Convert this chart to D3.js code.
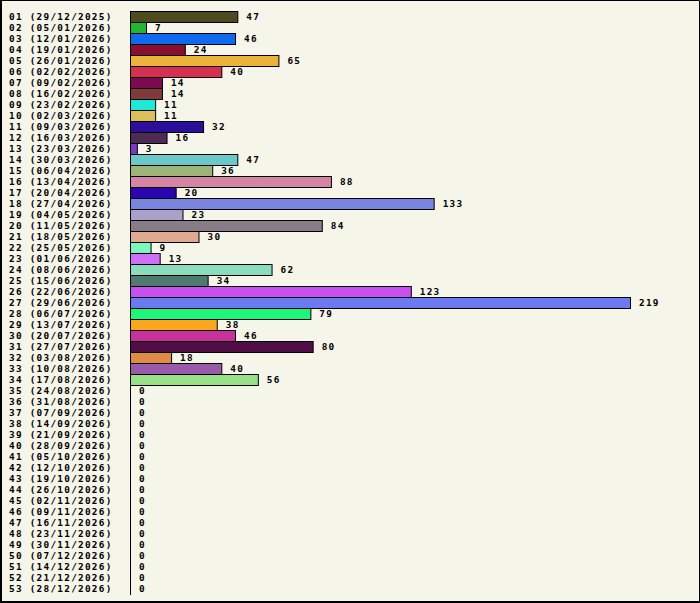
<!DOCTYPE html>
<html>
<head>
<meta charset="utf-8">
<script src="https://cdn.jsdelivr.net/npm/d3@7"></script>
<style>
  body { margin: 0; background: #f5f5ea; }
  svg { display: block; }
  text { font-family: "DejaVu Sans Mono", "Liberation Mono", monospace; font-weight: bold; font-size: 9.4px; letter-spacing: 1.26px; fill: #000; }
</style>
</head>
<body>
<div id="chart"></div>
<script>
const weeks = ['01 (29/12/2025)', '02 (05/01/2026)', '03 (12/01/2026)', '04 (19/01/2026)', '05 (26/01/2026)',
  '06 (02/02/2026)', '07 (09/02/2026)', '08 (16/02/2026)', '09 (23/02/2026)', '10 (02/03/2026)',
  '11 (09/03/2026)', '12 (16/03/2026)', '13 (23/03/2026)', '14 (30/03/2026)', '15 (06/04/2026)',
  '16 (13/04/2026)', '17 (20/04/2026)', '18 (27/04/2026)', '19 (04/05/2026)', '20 (11/05/2026)',
  '21 (18/05/2026)', '22 (25/05/2026)', '23 (01/06/2026)', '24 (08/06/2026)', '25 (15/06/2026)',
  '26 (22/06/2026)', '27 (29/06/2026)', '28 (06/07/2026)', '29 (13/07/2026)', '30 (20/07/2026)',
  '31 (27/07/2026)', '32 (03/08/2026)', '33 (10/08/2026)', '34 (17/08/2026)', '35 (24/08/2026)',
  '36 (31/08/2026)', '37 (07/09/2026)', '38 (14/09/2026)', '39 (21/09/2026)', '40 (28/09/2026)',
  '41 (05/10/2026)', '42 (12/10/2026)', '43 (19/10/2026)', '44 (26/10/2026)', '45 (02/11/2026)',
  '46 (09/11/2026)', '47 (16/11/2026)', '48 (23/11/2026)', '49 (30/11/2026)', '50 (07/12/2026)',
  '51 (14/12/2026)', '52 (21/12/2026)', '53 (28/12/2026)'];

const counts = [47, 7, 46, 24, 65, 40, 14, 14, 11, 11, 32, 16, 3, 47, 36, 88, 20, 133, 23, 84,
  30, 9, 13, 62, 34, 123, 219, 79, 38, 46, 80, 18, 40, 56,
  0, 0, 0, 0, 0, 0, 0, 0, 0, 0, 0, 0, 0, 0, 0, 0, 0, 0, 0];

const colors = ['#4f4a1f', '#22b530', '#0f6af0', '#8a0e30', '#ebb33a', '#d63050', '#7e0a50', '#803a3a',
  '#1ee8d8', '#dcbf5a', '#2b0f9a', '#4f2a55', '#7a3ac0', '#6bc8c8', '#9db479', '#d684a4', '#2b06ad',
  '#7a85e0', '#aaa0c8', '#887c88', '#e0aa92', '#7af8c0', '#d06ef5', '#8adcbc', '#4f7a70', '#c850f0',
  '#6b7af0', '#1ef57a', '#fca620', '#c8309a', '#4f0e45', '#e08a45', '#9a5aaa', '#98e088'];

const width = 700, height = 603;
const margin = { top: 11, left: 130 };

const svg = d3.select('#chart').append('svg')
  .attr('width', width)
  .attr('height', height);

svg.append('rect')
  .attr('width', width).attr('height', height)
  .attr('fill', '#f5f5ea');

const x = d3.scaleLinear()
  .domain([0, 219])
  .range([margin.left, 630]);

const y = d3.scaleBand()
  .domain(weeks)
  .range([margin.top, margin.top + weeks.length * 11])
  .padding(0);

const rows = svg.selectAll('g.row')
  .data(weeks.map((w, i) => ({ week: w, value: counts[i], color: colors[i] || '#000' })))
  .enter().append('g')
  .attr('class', 'row');

rows.filter(d => d.value > 0).append('rect')
  .attr('x', x(0) + 0.5)
  .attr('y', d => y(d.week) + 0.5)
  .attr('width', d => x(d.value) - x(0))
  .attr('height', y.bandwidth())
  .attr('fill', d => d.color)
  .attr('stroke', '#000')
  .attr('stroke-width', 1);

// empty weeks: the outline collapses to a vertical line
rows.filter(d => d.value === 0).append('line')
  .attr('x1', x(0) + 0.5).attr('x2', x(0) + 0.5)
  .attr('y1', d => y(d.week))
  .attr('y2', d => y(d.week) + y.bandwidth() + 1)
  .attr('stroke', '#000');

rows.append('text')
  .attr('x', 9)
  .attr('y', d => y(d.week) + y.bandwidth() / 2 + 1)
  .attr('dominant-baseline', 'middle')
  .text(d => d.week);

rows.append('text')
  .attr('x', d => x(d.value) + 9)
  .attr('y', d => y(d.week) + y.bandwidth() / 2 + 1)
  .attr('dominant-baseline', 'middle')
  .text(d => d.value);

// frame
svg.append('path')
  .attr('d', `M0.5,${height} V0.5 H${width - 0.5} V${height}`)
  .attr('fill', 'none').attr('stroke', '#000');
svg.append('path')
  .attr('d', `M1,0 V${height - 1} H${width}`)
  .attr('fill', 'none').attr('stroke', '#000').attr('stroke-width', 2);
</script>
</body>
</html>
